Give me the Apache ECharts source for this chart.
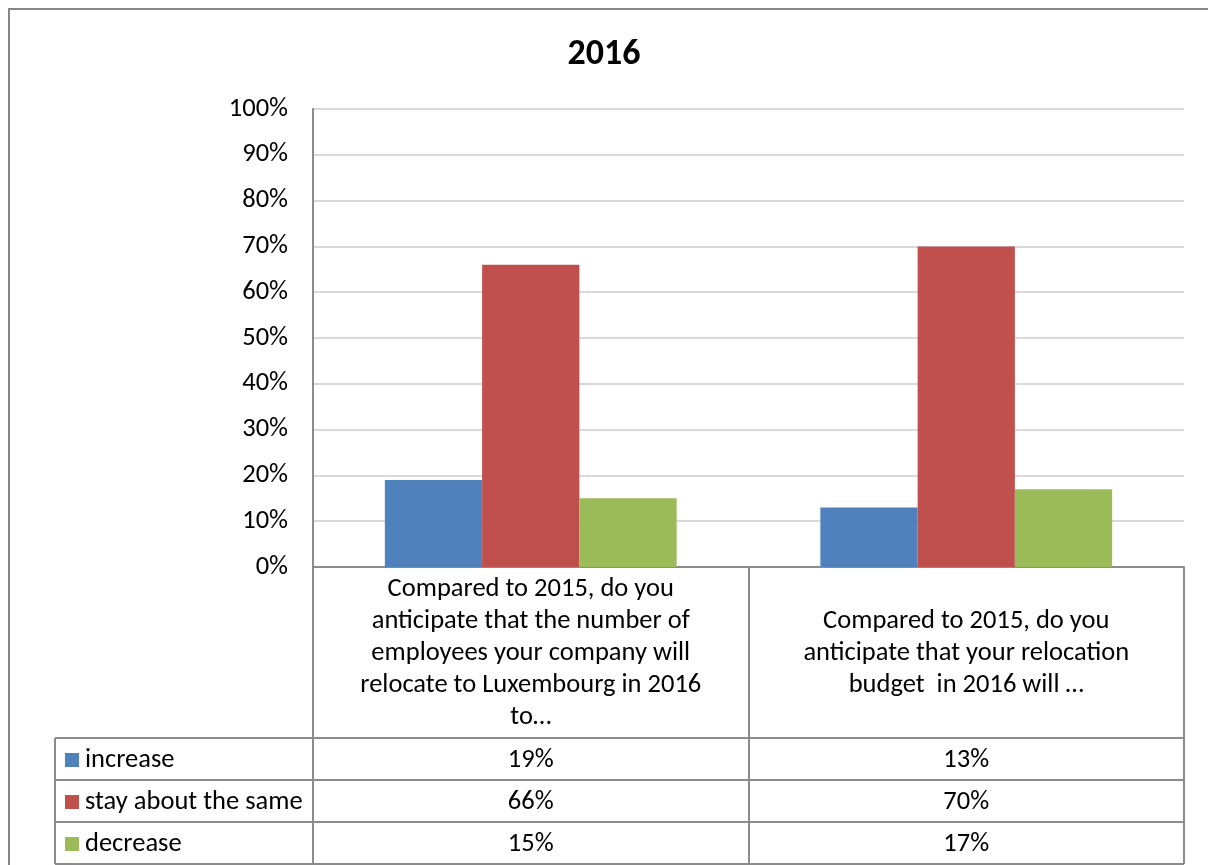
<!DOCTYPE html>
<html>
<head>
<meta charset="utf-8">
<script src="https://cdn.jsdelivr.net/npm/echarts@6/dist/echarts.min.js"></script>
<style>
  html, body { margin: 0; padding: 0; background: #fff; }
  #chart { width: 1208px; height: 865px; }
</style>
</head>
<body>
<div id="chart"></div>
<script>
// Survey answers per question (percent of respondents)
const categories = [
  'Compared to 2015, do you\nanticipate that the number of\nemployees your company will\nrelocate to Luxembourg in 2016\nto…',
  'Compared to 2015, do you\nanticipate that your relocation\nbudget  in 2016 will …'
];
const seriesNames = ['increase', 'stay about the same', 'decrease'];
const increaseValues = [19, 13];
const sameValues = [66, 70];
const decreaseValues = [15, 17];
const yTicks = { min: 0, max: 100, step: 10 };

const FONT = 'Carlito, Lato, sans-serif';
const FS = 26.5;
const GRID = { left: 313, right: 24, top: 109, bottom: 298 };
const W = 1208, H = 865;
const plotBottom = H - GRID.bottom;      // x-axis line
const labelBand = 171;                   // height of the category label band
const rowH = 42;                         // data table row height
const legendLine = 28;                   // legend text line height
const tableLeft = 55;
const lineColor = '#8c8c8c';

const seriesValues = [increaseValues, sameValues, decreaseValues];
const colors = ['#4F81BD', '#C0504D', '#9BBB59'];

const chart = echarts.init(document.getElementById('chart'), null, { renderer: 'canvas' });

const option = {
  animation: false,
  backgroundColor: '#fff',
  color: colors,
  textStyle: { fontFamily: FONT, color: '#000' },
  title: {
    text: '2016',
    left: 'center',
    top: 37,
    padding: 0,
    textStyle: { fontFamily: FONT, fontSize: 36, fontWeight: 'bold', color: '#000' }
  },
  legend: {
    orient: 'vertical',
    left: tableLeft + 10,
    top: plotBottom + labelBand + (rowH - legendLine) / 2 + 1,
    padding: 0,
    itemWidth: 14,
    itemHeight: 14,
    itemGap: rowH - legendLine,
    icon: 'rect',
    selectedMode: false,
    data: seriesNames,
    textStyle: {
      fontFamily: FONT, fontSize: FS, lineHeight: legendLine, color: '#000', padding: [0, 0, 0, 1]
    }
  },
  grid: { left: GRID.left, right: GRID.right, top: GRID.top, bottom: GRID.bottom, containLabel: false },
  xAxis: {
    type: 'category',
    data: categories,
    axisLine: { show: true, lineStyle: { color: lineColor, width: 2 } },
    axisTick: {
      show: true,
      length: labelBand + rowH * 3,
      lineStyle: { color: lineColor, width: 2 }
    },
    axisLabel: {
      interval: 0,
      margin: labelBand / 2 + 1,
      verticalAlign: 'middle',
      align: 'center',
      fontFamily: FONT,
      fontSize: FS,
      lineHeight: 32,
      color: '#000'
    }
  },
  yAxis: {
    type: 'value',
    min: yTicks.min,
    max: yTicks.max,
    interval: yTicks.step,
    axisLine: { show: true, lineStyle: { color: lineColor, width: 2 } },
    axisTick: { show: false },
    axisLabel: {
      formatter: '{value}%',
      margin: 25,
      fontFamily: FONT,
      fontSize: FS,
      color: '#000'
    },
    splitLine: { show: true, lineStyle: { color: '#d9d9d9', width: 2 } }
  },
  series: seriesNames.map((name, i) => ({
    name,
    type: 'bar',
    data: seriesValues[i],
    barGap: '0%',
    barCategoryGap: '33%',
    itemStyle: { color: colors[i] }
  }))
};

chart.setOption(option);

// Data table below the label band: grid lines and one value cell per series/category
function buildTable() {
  const tableTop = plotBottom + labelBand;
  const tableBottom = tableTop + rowH * seriesNames.length;
  const right = W - GRID.right;
  const els = [];
  // outer frame of the chart area
  els.push({
    type: 'rect',
    shape: { x: 9, y: 9, width: W + 20, height: H + 20 },
    style: { fill: null, stroke: '#868686', lineWidth: 2 },
    silent: true
  });
  for (let r = 0; r <= seriesNames.length; r++) {
    const y = tableTop + r * rowH;
    els.push({
      type: 'line',
      shape: { x1: tableLeft, y1: y, x2: right, y2: y },
      style: { stroke: lineColor, lineWidth: 2 },
      silent: true
    });
  }
  els.push({
    type: 'line',
    shape: { x1: tableLeft, y1: tableTop, x2: tableLeft, y2: tableBottom },
    style: { stroke: lineColor, lineWidth: 2 },
    silent: true
  });
  categories.forEach((cat, c) => {
    const cx = chart.convertToPixel({ xAxisIndex: 0 }, c);
    seriesValues.forEach((vals, s) => {
      els.push({
        type: 'text',
        x: cx,
        y: tableTop + s * rowH + rowH / 2 + 1,
        style: {
          text: vals[c] + '%',
          fontFamily: FONT,
          fontSize: FS,
          fill: '#000',
          align: 'center',
          verticalAlign: 'middle'
        },
        silent: true
      });
    });
  });
  return els;
}

chart.setOption({ graphic: { elements: buildTable() } });
</script>
</body>
</html>
